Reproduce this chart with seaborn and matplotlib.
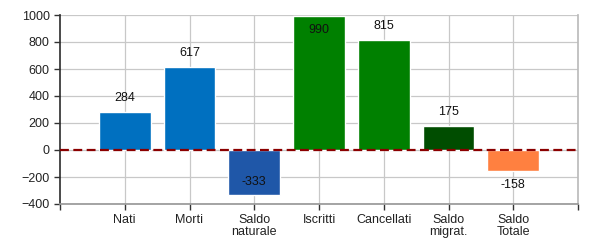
import matplotlib
matplotlib.use("Agg")
import matplotlib.pyplot as plt
import seaborn as sns
import pandas as pd

categories = ["Nati", "Morti", "Saldo\nnaturale", "Iscritti", "Cancellati", "Saldo\nmigrat.", "Saldo\nTotale"]
values = [284, 617, -333, 990, 815, 175, -158]
colors = ["#0070C0", "#0070C0", "#1F57A8", "#008000", "#008000", "#004D00", "#FF8040"]
yticks = [-400, -200, 0, 200, 400, 600, 800, 1000]

sns.set_theme(style="white")
plt.rcParams['font.family'] = ['Liberation Sans', 'DejaVu Sans']

df = pd.DataFrame({"cat": categories, "val": values})

fig = plt.figure(figsize=(6, 2.5), dpi=100)
ax = fig.add_axes([60/600, 1-204/250, 518/600, 189/250])

sns.barplot(data=df, x="cat", y="val", hue="cat", palette=colors, legend=False,
            width=0.8, saturation=1, ax=ax, zorder=2)

ax.set_xlim(-1, 7)
ax.set_ylim(-400, 1000)
ax.set_yticks(yticks)
ax.set_xticks(range(len(categories)))
ax.set_xticklabels(categories, fontsize=9, color="#222222", linespacing=1.0)
ax.tick_params(axis='y', labelsize=9, colors="#222222")
ax.tick_params(axis='both', direction='out', length=4, width=1, color="#333333", left=True, bottom=True)
ax.set_xlabel("")
ax.set_ylabel("")
ax.grid(True, color="#C8C8C8", linewidth=0.9, zorder=0)
ax.set_axisbelow(True)

for side in ["top", "right", "bottom"]:
    ax.spines[side].set_color("#BBBBBB")
ax.spines["top"].set_visible(False)
ax.spines["left"].set_color("#333333")
ax.spines["bottom"].set_color("#999999")

# extra ticks at x-axis ends
ax.set_xticks([-1, 7], minor=True)
ax.tick_params(axis='x', which='minor', direction='out', length=4, width=1, color="#333333", bottom=True)

ax.axhline(0, color="#8B0000", linestyle=(0, (4, 2)), linewidth=1.6, zorder=3)

for i, v in enumerate(values):
    if v >= 0:
        y_off = 10 if v < 950 else -10
    else:
        y_off = -10 if v > -300 else 9
    ax.annotate(str(v), (i, v), xytext=(0, y_off), textcoords="offset points",
                ha="center", va="center", fontsize=9, color="#111111", zorder=4)

fig.savefig("out.png", dpi=100)
